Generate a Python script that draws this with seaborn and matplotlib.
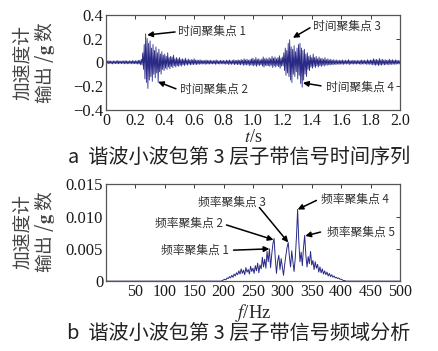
import numpy as np
import pandas as pd
import seaborn as sns
import matplotlib.pyplot as plt

# ---- data ----
# time series: positive / negative peak per 0.01 s step (0 .. 2.0 s)
t_step = 0.01
hi_vals = [
    .012, .010, .014, .011, .009, .013, .010, .012, .015, .011,
    .010, .013, .011, .014, .012, .010, .013, .011, .015, .012,
    .014, .012, .018, .016, .025, .080, .150, .240, .200, .160,
    .180, .120, .150, .100, .130, .080, .110, .070, .090, .060,
    .070, .050, .080, .040, .050, .045, .060, .030, .040, .030,
    .040, .025, .030, .022, .035, .020, .028, .018, .024, .020,
    .030, .018, .020, .016, .022, .015, .018, .014, .020, .016,
    .015, .018, .013, .016, .014, .020, .015, .013, .017, .014,
    .016, .013, .018, .015, .020, .014, .016, .022, .015, .018,
    .020, .016, .024, .018, .030, .020, .026, .018, .022, .028,
    .035, .022, .040, .025, .030, .020, .028, .045, .030, .035,
    .025, .040, .030, .050, .035, .045, .030, .040, .055, .035,
    .045, .080, .120, .100, .160, .190, .130, .110, .140, .090,
    .120, .150, .160, .120, .100, .110, .070, .080, .050, .060,
    .040, .070, .040, .050, .030, .045, .030, .035, .025, .040,
    .022, .030, .020, .026, .018, .022, .016, .020, .015, .018,
    .016, .020, .014, .018, .015, .022, .016, .013, .018, .015,
    .014, .017, .013, .016, .020, .015, .018, .014, .022, .016,
    .020, .018, .030, .022, .025, .018, .032, .020, .026, .018,
    .022, .016, .020, .025, .018, .022, .016, .020, .018, .015, .014,
]
lo_vals = [
    .011, .013, .010, .012, .014, .010, .012, .011, .013, .010,
    .012, .010, .014, .011, .013, .012, .010, .014, .011, .013,
    .012, .015, .014, .020, .022, .060, .140, .170, .220, .150,
    .120, .160, .100, .130, .090, .170, .080, .100, .060, .070,
    .050, .060, .040, .055, .035, .045, .030, .040, .028, .035,
    .025, .032, .020, .028, .018, .024, .016, .022, .018, .020,
    .016, .020, .015, .018, .014, .016, .013, .017, .015, .014,
    .016, .013, .015, .012, .017, .014, .013, .016, .012, .015,
    .014, .017, .013, .019, .015, .018, .014, .020, .016, .019,
    .018, .022, .016, .026, .020, .024, .018, .028, .022, .025,
    .030, .024, .035, .022, .028, .020, .032, .040, .026, .030,
    .028, .035, .025, .045, .030, .040, .028, .038, .050, .032,
    .030, .070, .110, .090, .120, .150, .170, .100, .120, .080,
    .140, .110, .180, .210, .150, .100, .120, .060, .070, .040,
    .050, .035, .045, .030, .040, .028, .035, .025, .032, .022,
    .026, .020, .024, .018, .022, .016, .020, .015, .018, .016,
    .015, .018, .014, .016, .013, .019, .015, .014, .016, .013,
    .016, .013, .015, .018, .014, .016, .013, .019, .015, .018,
    .017, .022, .020, .026, .019, .028, .022, .024, .018, .022,
    .019, .017, .022, .016, .020, .015, .018, .016, .014, .015, .013,
]

# spectrum: 196 .. 408 Hz, 2 Hz step
f_start, f_step = 196, 2
spec_vals = [
    .0000, .0001, .0002, .0003, .0002, .0005, .0004, .0007, .0005, .0009,
    .0006, .0011, .0008, .0013, .0010, .0016, .0011, .0019, .0012, .0017,
    .0010, .0021, .0014, .0018, .0011, .0023, .0015, .0020, .0012, .0024,
    .0016, .0028, .0013, .0025, .0019, .0037, .0022, .0034, .0020, .0046,
    .0030, .0050, .0021, .0042, .0058, .0066, .0035, .0012, .0031, .0040,
    .0018, .0035, .0022, .0009, .0026, .0040, .0052, .0060, .0038, .0022,
    .0047, .0030, .0015, .0036, .0068, .0111, .0062, .0030, .0045, .0024,
    .0052, .0071, .0040, .0022, .0038, .0027, .0046, .0025, .0032, .0018,
    .0030, .0020, .0026, .0014, .0022, .0013, .0019, .0011, .0016, .0010,
    .0014, .0008, .0012, .0007, .0010, .0006, .0008, .0005, .0006, .0004,
    .0005, .0003, .0003, .0002, .0001, .0001, .0000,
]

# annotations: label, label centre, arrow tail, arrow tip
time_notes = ["时间聚集点 1", "时间聚集点 2", "时间聚集点 3", "时间聚集点 4"]
time_text = [(0.72, 0.262), (0.735, -0.23), (1.64, 0.307), (1.73, -0.206)]
time_tail = [(0.47, 0.255), (0.476, -0.223), (1.388, 0.29), (1.463, -0.198)]
time_tips = [(0.28, 0.23), (0.354, -0.164), (1.272, 0.206), (1.34, -0.173)]

freq_notes = ["频率聚集点 1", "频率聚集点 2", "频率聚集点 3", "频率聚集点 4", "频率聚集点 5"]
freq_text = [(151, 0.0048), (141, 0.0090), (215, 0.0122), (424, 0.0127), (433, 0.0076)]
freq_tail = [(217, 0.0048), (205, 0.0087), (261, 0.0114), (358, 0.0125), (365, 0.0076)]
freq_tips = [(278, 0.0050), (285, 0.0064), (310, 0.0060), (326, 0.0111), (339, 0.0070)]

# ---- build tables ----
t0 = np.arange(len(hi_vals)) * t_step
ts = pd.DataFrame({
    "t": np.column_stack([t0, t0 + t_step / 2]).ravel(),
    "v": np.column_stack([hi_vals, -np.array(lo_vals)]).ravel(),
})
fs = pd.DataFrame({
    "f": [0] + list(f_start + f_step * np.arange(len(spec_vals))) + [500],
    "a": [0] + spec_vals + [0],
})

sns.set_style("white")
plt.rcParams["font.family"] = ["Liberation Serif", "Noto Sans CJK SC"]
plt.rcParams["mathtext.fontset"] = "stix"

line_c = "#2a2a86"
txt_c = "#333333"
cjk = ["Noto Sans CJK SC", "Liberation Serif"]

fig = plt.figure(figsize=(4.38, 3.51), dpi=100)
ax1 = fig.add_axes([0.242, 0.687, 0.671, 0.271])
ax2 = fig.add_axes([0.242, 0.199, 0.671, 0.276])

sns.lineplot(data=ts, x="t", y="v", ax=ax1, color=line_c, lw=0.6, estimator=None)
sns.lineplot(data=fs, x="f", y="a", ax=ax2, color=line_c, lw=0.7, estimator=None)

ax1.set_xlim(0, 2.0)
ax1.set_ylim(-0.4, 0.4)
ax1.set_xticks(np.arange(0, 2.01, 0.2))
ax1.set_xticklabels(["0"] + [f"{v:.1f}" for v in np.arange(0.2, 2.01, 0.2)])
ax1.set_yticks([-0.4, -0.2, 0, 0.2, 0.4])
ax1.set_yticklabels(["\u22120.4", "\u22120.2", "0", "0.2", "0.4"])

ax2.set_xlim(0, 500)
ax2.set_ylim(0, 0.015)
ax2.set_xticks(range(50, 501, 50))
ax2.set_yticks([0, 0.005, 0.010, 0.015])
ax2.set_yticklabels(["0", "0.005", "0.010", "0.015"])

for ax in (ax1, ax2):
    ax.tick_params(direction="in", length=3, width=0.6, labelsize=12,
                   top=True, right=True, pad=2, colors="#1a1a1a")
    for s in ax.spines.values():
        s.set_color("#555555")
        s.set_linewidth(0.9)
    ax.set_ylabel("")
    ax.set_xlabel("")
    ax.tick_params(axis="x", labelsize=11.5)

ax1.set_xlabel("$\\mathit{t}$/s", fontsize=13, labelpad=0)
ax2.set_xlabel("$\\mathit{f}$/Hz", fontsize=13.5, labelpad=1.5)

for y in (0.822, 0.34):
    fig.text(0.078, y, "加速度计\n输出 /$\\mathbf{g}$ 数", rotation=90, ha="center",
             va="center", fontsize=13.5, family=cjk, color="#444444", linespacing=1.0)

for ax, notes, pos, tails, tips in ((ax1, time_notes, time_text, time_tail, time_tips),
                                    (ax2, freq_notes, freq_text, freq_tail, freq_tips)):
    for txt, p, tl, tp in zip(notes, pos, tails, tips):
        ax.text(p[0], p[1], txt, fontsize=8.5, family=cjk, ha="center",
                va="center", color=txt_c, clip_on=False)
        ax.annotate("", xy=tp, xytext=tl,
                    arrowprops=dict(arrowstyle="-|>", color="black", lw=1.1,
                                    mutation_scale=8, shrinkA=0, shrinkB=0))

fig.text(0.545, 0.553, "a  谐波小波包第 3 层子带信号时间序列", ha="center", va="center",
         fontsize=14.5, family=cjk, color="#222222")
fig.text(0.545, 0.05, "b  谐波小波包第 3 层子带信号频域分析", ha="center", va="center",
         fontsize=14.5, family=cjk, color="#222222")

fig.savefig("out.png", dpi=100)
